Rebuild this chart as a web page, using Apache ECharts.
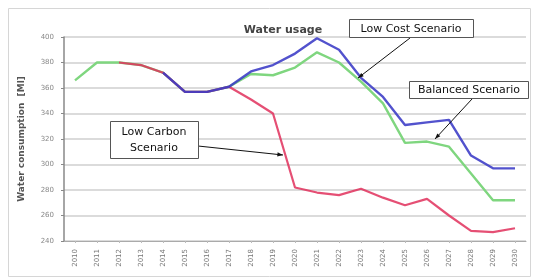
<!DOCTYPE html>
<html>
<head>
<meta charset="utf-8">
<script src="https://cdn.jsdelivr.net/npm/echarts@6/dist/echarts.min.js"></script>
<style>
  html, body { margin: 0; padding: 0; background: #fff; }
  #chart { width: 543px; height: 280px; }
</style>
</head>
<body>
<div id="chart"></div>
<script>
// Categories - years on the x axis
const years = ['2010', '2011', '2012', '2013', '2014', '2015', '2016', '2017', '2018', '2019', '2020',
  '2021', '2022', '2023', '2024', '2025', '2026', '2027', '2028', '2029', '2030']

// Series values (Ml)
const lowCost = [null, null, null, null, 372, 357, 357, 361, 373, 378, 387, 399, 390, 368, 353, 331, 333, 335, 307, 297, 297]
const balanced = [366, 380, 380, 378, 372, 357, 357, 361, 371, 370, 376, 388, 380, 365, 348, 317, 318, 314, 293, 272, 272]
const lowCarbon = [null, null, 380, 378, 372, 357, 357, 361, 351, 340, 282, 278, 276, 281, 274, 268, 273, 260, 248, 247, 250]

// Y axis range
const yMin = 240
const yMax = 400
const yStep = 20

const chart = echarts.init(document.getElementById('chart'))

const boxStyle = {
  fill: '#fff',
  stroke: '#555',
  lineWidth: 1
}
const boxText = {
  fill: '#111',
  fontSize: 11,
  fontFamily: 'DejaVu Sans'
}
const arrow = (x1, y1, x2, y2) => {
  const a = Math.atan2(y2 - y1, x2 - x1)
  const l = 6
  return [
    { type: 'line', shape: { x1, y1, x2, y2 }, style: { stroke: '#111', lineWidth: 1 }, z: 10 },
    {
      type: 'polygon',
      shape: {
        points: [
          [x2, y2],
          [x2 - l * Math.cos(a - 0.35), y2 - l * Math.sin(a - 0.35)],
          [x2 - l * Math.cos(a + 0.35), y2 - l * Math.sin(a + 0.35)]
        ]
      },
      style: { fill: '#111' },
      z: 10
    }
  ]
}

const option = {
  animation: false,
  backgroundColor: '#fff',
  title: {
    text: 'Water usage',
    left: 278,
    top: 20,
    textAlign: 'center',
    textStyle: { fontSize: 11, fontWeight: 'bold', color: '#444', fontFamily: 'DejaVu Sans' }
  },
  grid: { left: 64, right: 17, top: 37, bottom: 39 },
  xAxis: {
    type: 'category',
    data: years,
    boundaryGap: true,
    axisLine: { lineStyle: { color: '#aaa', width: 1 } },
    axisTick: { show: true, alignWithLabel: true, length: 2, lineStyle: { color: '#bbb' } },
    axisLabel: { rotate: 90, fontSize: 7, color: '#777', fontFamily: 'DejaVu Sans', margin: 8 }
  },
  yAxis: {
    type: 'value',
    min: yMin,
    max: yMax,
    interval: yStep,
    name: 'Water consumption  [Ml]',
    nameLocation: 'middle',
    nameGap: 38,
    nameTextStyle: { fontSize: 9, fontWeight: 'bold', color: '#555', fontFamily: 'DejaVu Sans' },
    axisLine: { show: true, lineStyle: { color: '#888', width: 1.5 } },
    axisTick: { show: true, length: 3, lineStyle: { color: '#888' } },
    axisLabel: { fontSize: 7, color: '#888', fontFamily: 'DejaVu Sans', margin: 10 },
    splitLine: { lineStyle: { color: '#cfcfcf', width: 1.5 } }
  },
  series: [
    {
      name: 'Balanced Scenario',
      type: 'line',
      data: balanced,
      symbol: 'none',
      lineStyle: { color: '#7fd67f', width: 2.4 },
      z: 2
    },
    {
      name: 'Low Carbon Scenario',
      type: 'line',
      data: lowCarbon,
      symbol: 'none',
      lineStyle: { color: '#e0305c', width: 2.2, opacity: 0.85 },
      z: 3
    },
    {
      name: 'Low Cost Scenario',
      type: 'line',
      data: lowCost,
      symbol: 'none',
      lineStyle: { color: '#3a3ac6', width: 2.4, opacity: 0.88 },
      z: 4
    }
  ],
  graphic: [
    // outer frame
    { type: 'rect', shape: { x: 8.5, y: 8.5, width: 522, height: 268 }, style: { fill: 'none', stroke: '#d6d6d6', lineWidth: 1 }, z: 0 },
    // Low Cost box
    { type: 'rect', shape: { x: 349.5, y: 19.5, width: 124, height: 18 }, style: boxStyle, z: 11 },
    { type: 'text', x: 411, y: 29, style: Object.assign({ text: 'Low Cost Scenario', align: 'center', verticalAlign: 'middle' }, boxText), z: 12 },
    ...arrow(410, 38, 358, 78),
    // Balanced box
    { type: 'rect', shape: { x: 409.5, y: 81.5, width: 119, height: 17 }, style: boxStyle, z: 11 },
    { type: 'text', x: 469, y: 90, style: Object.assign({ text: 'Balanced Scenario', align: 'center', verticalAlign: 'middle' }, boxText), z: 12 },
    ...arrow(472, 99, 435, 139),
    // Low Carbon box
    { type: 'rect', shape: { x: 110.5, y: 121.5, width: 88, height: 37 }, style: boxStyle, z: 11 },
    { type: 'text', x: 154, y: 140, style: Object.assign({ text: 'Low Carbon\nScenario', align: 'center', verticalAlign: 'middle', lineHeight: 16 }, boxText), z: 12 },
    ...arrow(198, 146, 283, 155)
  ]
}

option && chart.setOption(option)
</script>
</body>
</html>
